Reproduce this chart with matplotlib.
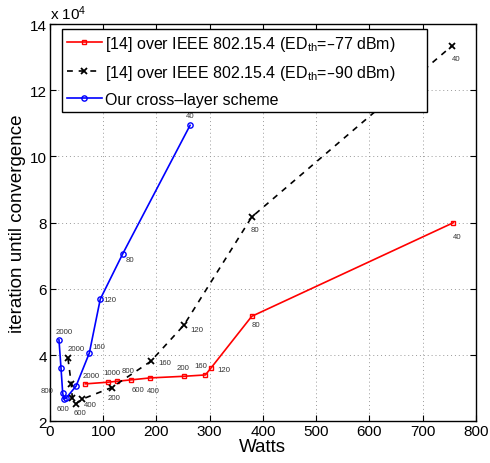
import matplotlib
matplotlib.use("Agg")
import matplotlib.pyplot as plt
import numpy as np

plt.rcParams['font.family'] = ['Liberation Sans', 'DejaVu Sans']
plt.rcParams['mathtext.default'] = 'regular'

# Power consumption (Watts) and iterations until convergence for each scheme;
# each point is tagged with its parameter value.
red_params = [2000, 1000, 800, 600, 400, 200, 160, 120, 80, 40]
red_watts = [66.4, 108.4, 126.5, 151.6, 188.0, 252.5, 292.0, 303.0, 379.0, 758.0]
red_iters = [31300, 31800, 32100, 32500, 33100, 33600, 34000, 36200, 51700, 80000]

black_params = [2000, 1000, 800, 600, 400, 200, 160, 120, 80, 40]
black_watts = [33.8, 40.0, 42.0, 48.3, 60.7, 116.0, 189.3, 251.9, 379.0, 756.0]
black_iters = [39000, 31300, 26900, 25200, 26700, 30200, 38100, 49100, 81700, 133500]

blue_params = [2000, 1000, 800, 600, 400, 200, 160, 120, 80, 40]
blue_watts = [16.9, 20.7, 23.9, 26.3, 30.1, 48.9, 73.9, 94.5, 136.7, 263.2]
blue_iters = [44600, 36100, 28500, 26700, 27000, 30600, 40600, 56900, 70600, 109400]

x_ticks = [0, 100, 200, 300, 400, 500, 600, 700, 800]
y_ticks = [2, 4, 6, 8, 10, 12, 14]

# which points carry a value tag, and the tag offset in points
red_tags = {2000: (4, 6), 1000: (3, 7), 800: (8, 8), 600: (5, -7), 400: (2, -9),
            200: (-1, 6), 160: (-3, 7), 120: (9, -1), 80: (3, -6), 40: (3, -10)}
black_tags = {2000: (6, 7), 600: (3, -6), 400: (6, -4), 200: (2, -7),
              160: (10, -1), 120: (9, -3), 80: (2, -9), 40: (3, -9)}
blue_tags = {2000: (4, 6), 800: (-11, 2), 600: (-1, -7), 160: (7, 5),
             120: (7, 0), 80: (5, -4), 40: (0, 7)}

SCALE = 1e4

fig = plt.figure(figsize=(4.9, 4.64), dpi=100)
ax = fig.add_axes([0.102, 0.0899, 0.869, 0.8562])

ax.plot(red_watts, np.array(red_iters) / SCALE, color='#ff0000', lw=1.2,
        marker='s', ms=3.4, mfc='none', mec='#ff0000', mew=1.0,
        label='[14] over IEEE 802.15.4 (ED$_{th}$=\u201377 dBm)')
ax.plot(black_watts, np.array(black_iters) / SCALE, color='black', lw=1.2,
        ls=(0, (3.5, 3.5)), marker='x', ms=4.2, mew=1.3,
        label='[14] over IEEE 802.15.4 (ED$_{th}$=\u201390 dBm)')
ax.plot(blue_watts, np.array(blue_iters) / SCALE, color='#0000ff', lw=1.2,
        marker='o', ms=3.8, mfc='none', mec='#0000ff', mew=1.0,
        label='Our cross\u2013layer scheme')


def tag(params, xs, ys, tags):
    for p, x, y in zip(params, xs, ys):
        if p in tags:
            dx, dy = tags[p]
            ax.annotate(str(p), (x, y / SCALE), xytext=(dx, dy),
                        textcoords='offset points', fontsize=5.6,
                        color='#333333', ha='center', va='center')


tag(red_params, red_watts, red_iters, red_tags)
tag(black_params, black_watts, black_iters, black_tags)
tag(blue_params, blue_watts, blue_iters, blue_tags)

ax.set_xlim(0, 800)
ax.set_ylim(2, 14)
ax.set_xticks(x_ticks)
ax.set_yticks(y_ticks)
ax.tick_params(direction='in', length=4, width=0.8, labelsize=11,
               top=True, right=True, pad=2)
ax.grid(True, color='#999999', ls=(0, (1, 3)), lw=0.7)
for s in ax.spines.values():
    s.set_linewidth(1.0)

ax.set_xlabel('Watts', fontsize=13.5, labelpad=0)
ax.set_ylabel('iteration until convergence', fontsize=13.5, labelpad=3)
ax.text(0.0, 1.005, 'x 10$^{4}$', transform=ax.transAxes, fontsize=11,
        ha='left', va='bottom')

leg = ax.legend(loc='upper left', bbox_to_anchor=(0.028, 0.0, 0.857, 0.987),
                mode='expand', borderaxespad=0, fontsize=11.5, fancybox=False,
                framealpha=1, edgecolor='black', handlelength=2.2,
                handletextpad=0.2, labelspacing=0.62, borderpad=0.3)
leg.get_frame().set_linewidth(1.0)

fig.savefig('out.png', dpi=100)
